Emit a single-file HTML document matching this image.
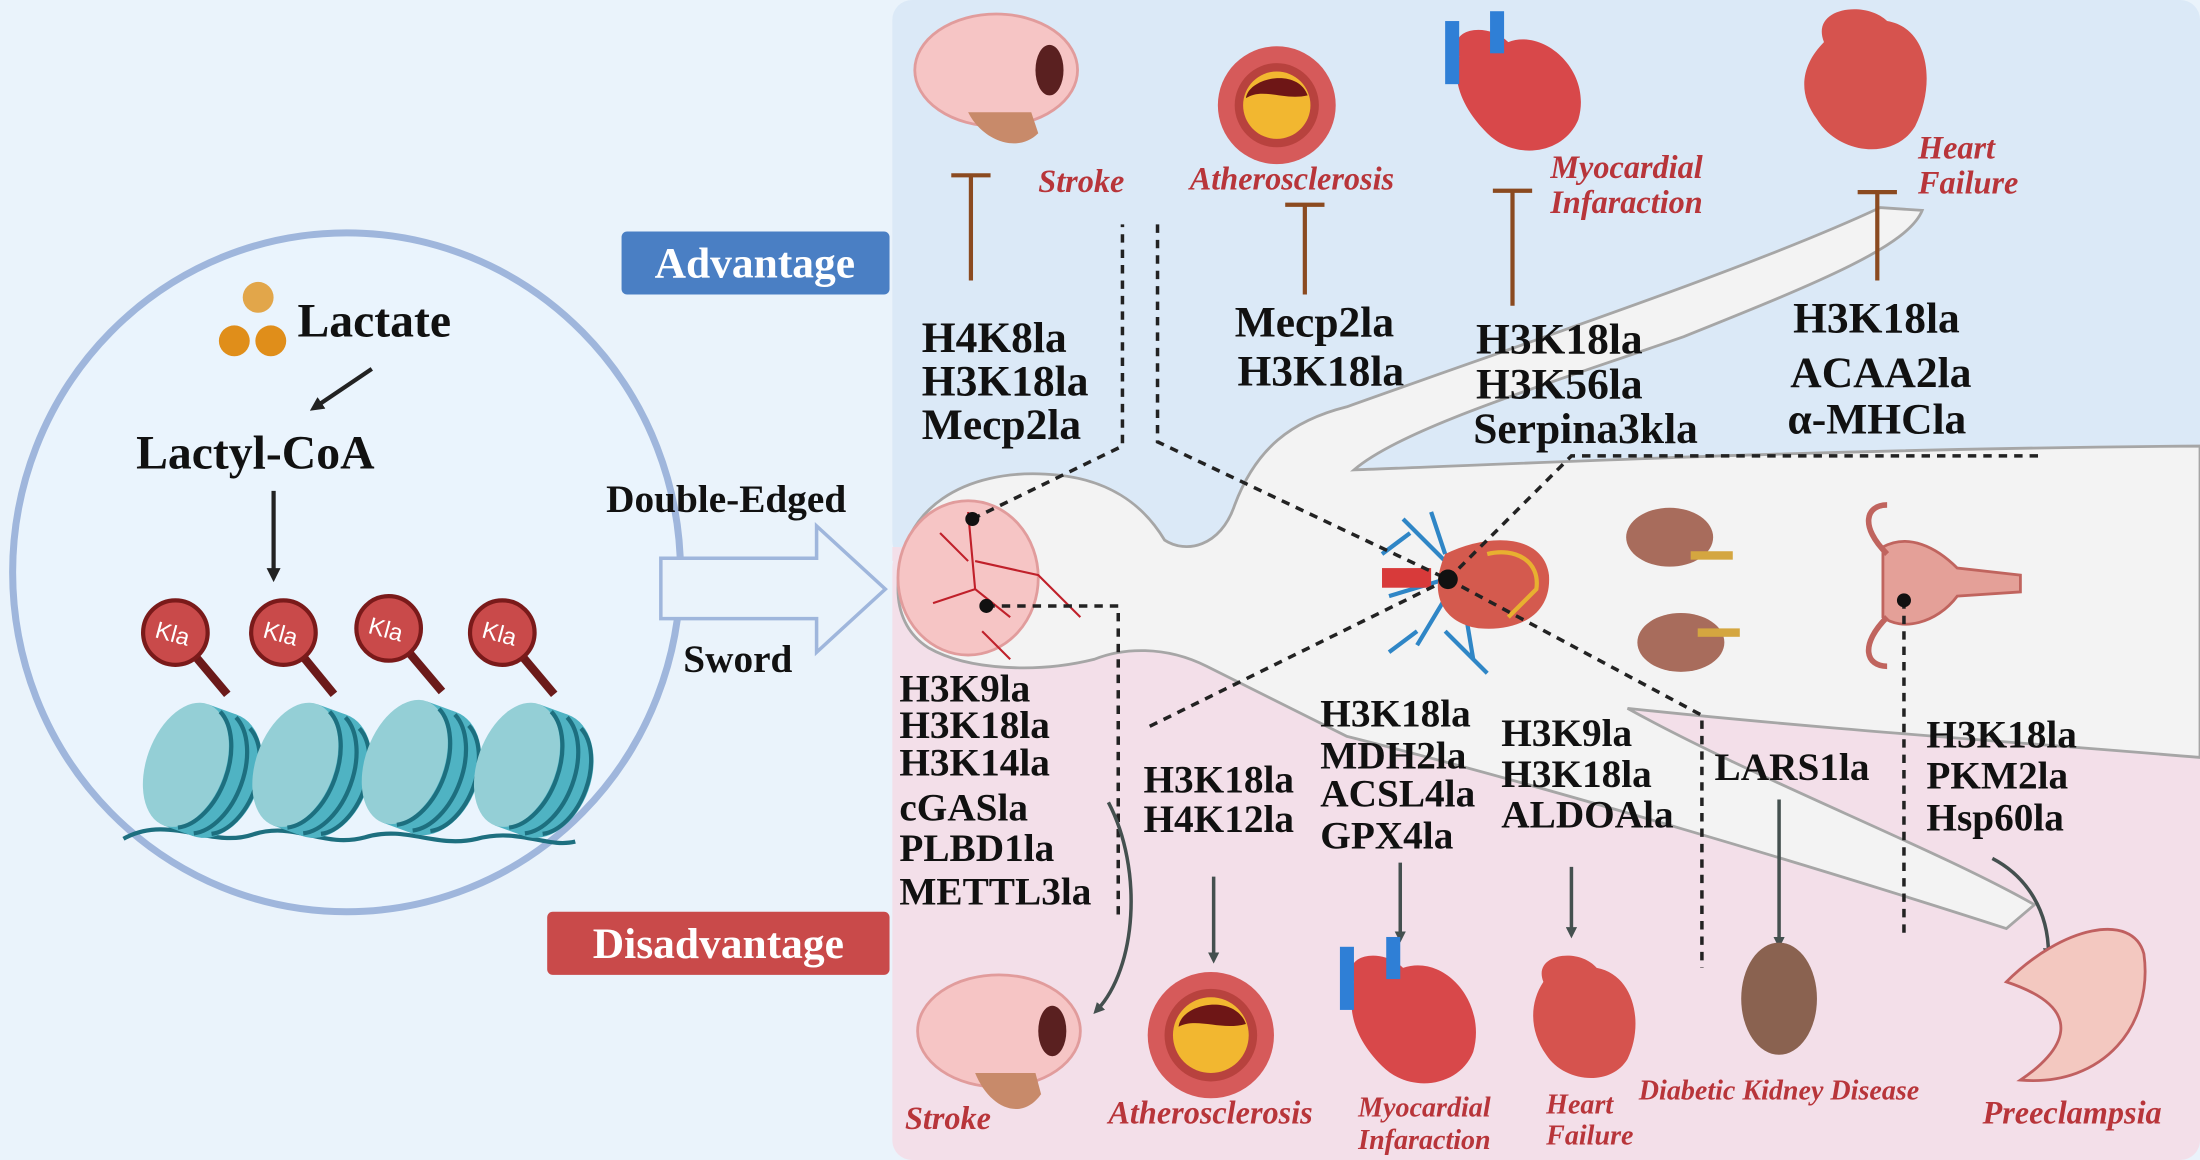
<!DOCTYPE html>
<html><head><meta charset="utf-8"><style>
html,body{margin:0;padding:0;background:#eaf3fb;}
svg{display:block;}
.lb{font-family:"Liberation Serif",serif;font-weight:bold;fill:#111;font-size:31px;}
.dz{font-family:"Liberation Serif",serif;font-weight:bold;font-style:italic;fill:#b8353a;font-size:23px;}
</style></head><body>
<svg width="2200" height="1160" viewBox="0 0 1568 827" preserveAspectRatio="none" xmlns="http://www.w3.org/2000/svg">
<defs>
<marker id="ga" markerWidth="8" markerHeight="8" refX="4" refY="4" orient="auto" markerUnits="userSpaceOnUse" viewBox="0 0 8 8"><path d="M0,0 L8,4 L0,8 Z" fill="#44504f"/></marker>
<marker id="ba" markerWidth="10" markerHeight="10" refX="5" refY="5" orient="auto" viewBox="0 0 10 10" markerUnits="userSpaceOnUse"><path d="M0,0 L10,5 L0,10 Z" fill="#222"/></marker>
</defs>
<rect x="0" y="0" width="1568" height="827" fill="#eaf3fb"/>
<!-- panels -->
<rect x="636" y="0" width="932" height="400" rx="14" fill="#dbe9f7"/>
<rect x="636" y="390" width="932" height="437" rx="14" fill="#f3dfe9"/>
<rect x="636" y="390" width="932" height="10" fill="#f3dfe9"/>
<!-- cell -->
<ellipse cx="247" cy="408" rx="238" ry="242" fill="#eaf4fd" stroke="#9fb6dc" stroke-width="5"/>
<circle cx="184" cy="212" r="11" fill="#e2a64a"/>
<circle cx="167" cy="243" r="11" fill="#e08e1a"/>
<circle cx="193" cy="243" r="11" fill="#e08e1a"/>
<text x="212" y="240" class="lb" style="font-size:34px">Lactate</text>
<line x1="265" y1="263" x2="225" y2="290" stroke="#222" stroke-width="3" marker-end="url(#ba)"/>
<text x="97" y="334" class="lb" style="font-size:34px">Lactyl-CoA</text>
<line x1="195" y1="350" x2="195" y2="410" stroke="#222" stroke-width="3" marker-end="url(#ba)"/>
<!-- nucleosomes -->
<g>
<path d="M88 598 C120 580 150 605 180 595 C210 585 230 605 260 597 C290 588 310 605 340 598 C370 590 390 605 410 600" fill="none" stroke="#1d6f7f" stroke-width="3"/>
<g transform="translate(140,548) rotate(20)"><ellipse cx="14" cy="0" rx="32" ry="46" fill="#4fb3c3"/><rect x="-8" y="-46" width="22" height="92" fill="#4fb3c3"/><ellipse cx="-8" cy="0" rx="28" ry="46" fill="#94cfd6"/><path d="M2 -44 A28 46 0 0 1 2 44 M14 -44 A28 46 0 0 1 14 44 M26 -40 A26 42 0 0 1 26 40" fill="none" stroke="#1d6f7f" stroke-width="3"/></g>
<g transform="translate(218,548) rotate(20)"><ellipse cx="14" cy="0" rx="32" ry="46" fill="#4fb3c3"/><rect x="-8" y="-46" width="22" height="92" fill="#4fb3c3"/><ellipse cx="-8" cy="0" rx="28" ry="46" fill="#94cfd6"/><path d="M2 -44 A28 46 0 0 1 2 44 M14 -44 A28 46 0 0 1 14 44 M26 -40 A26 42 0 0 1 26 40" fill="none" stroke="#1d6f7f" stroke-width="3"/></g>
<g transform="translate(296,546) rotate(20)"><ellipse cx="14" cy="0" rx="32" ry="46" fill="#4fb3c3"/><rect x="-8" y="-46" width="22" height="92" fill="#4fb3c3"/><ellipse cx="-8" cy="0" rx="28" ry="46" fill="#94cfd6"/><path d="M2 -44 A28 46 0 0 1 2 44 M14 -44 A28 46 0 0 1 14 44 M26 -40 A26 42 0 0 1 26 40" fill="none" stroke="#1d6f7f" stroke-width="3"/></g>
<g transform="translate(376,548) rotate(20)"><ellipse cx="14" cy="0" rx="32" ry="46" fill="#4fb3c3"/><rect x="-8" y="-46" width="22" height="92" fill="#4fb3c3"/><ellipse cx="-8" cy="0" rx="28" ry="46" fill="#94cfd6"/><path d="M2 -44 A28 46 0 0 1 2 44 M14 -44 A28 46 0 0 1 14 44 M26 -40 A26 42 0 0 1 26 40" fill="none" stroke="#1d6f7f" stroke-width="3"/></g>
</g>
<g font-family="Liberation Sans,sans-serif" font-size="17" fill="#fff">
<line x1="125" y1="451" x2="162" y2="495" stroke="#6b1a1a" stroke-width="6"/><circle cx="125" cy="451" r="23" fill="#c94a4a" stroke="#7a1a1a" stroke-width="3"/><text x="111" y="458" transform="rotate(15 125 451)">Kla</text>
<line x1="202" y1="451" x2="238" y2="495" stroke="#6b1a1a" stroke-width="6"/><circle cx="202" cy="451" r="23" fill="#c94a4a" stroke="#7a1a1a" stroke-width="3"/><text x="188" y="458" transform="rotate(15 202 451)">Kla</text>
<line x1="277" y1="448" x2="315" y2="493" stroke="#6b1a1a" stroke-width="6"/><circle cx="277" cy="448" r="23" fill="#c94a4a" stroke="#7a1a1a" stroke-width="3"/><text x="263" y="455" transform="rotate(15 277 448)">Kla</text>
<line x1="358" y1="451" x2="395" y2="495" stroke="#6b1a1a" stroke-width="6"/><circle cx="358" cy="451" r="23" fill="#c94a4a" stroke="#7a1a1a" stroke-width="3"/><text x="344" y="458" transform="rotate(15 358 451)">Kla</text>
</g>
<!-- Advantage / Disadvantage -->
<rect x="443" y="165" width="191" height="45" rx="4" fill="#4a7fc4"/>
<text x="538" y="198" text-anchor="middle" class="lb" style="fill:#fff;font-size:31px">Advantage</text>
<rect x="390" y="650" width="244" height="45" rx="4" fill="#c94a4a"/>
<text x="512" y="683" text-anchor="middle" class="lb" style="fill:#fff;font-size:31px">Disadvantage</text>
<text x="432" y="365" class="lb" style="font-size:28px">Double-Edged</text>
<text x="487" y="479" class="lb" style="font-size:28px">Sword</text>
<path d="M471 398 L582 398 L582 375 L631 420 L582 465 L582 441 L471 441 Z" fill="#eaf3fb" stroke="#9fb6dc" stroke-width="2.5"/>
<!-- body -->
<path d="M640 420 C640 360 690 335 745 338 C790 340 815 360 830 385 C845 395 870 390 880 360 C895 320 920 300 960 290 C1100 240 1250 190 1340 148 L1370 150 C1360 175 1300 200 1200 240 C1100 275 1000 305 965 335 C1100 330 1300 320 1568 318 L1568 540 C1450 530 1300 520 1160 505 C1250 555 1380 605 1450 645 L1430 662 C1300 620 1100 560 960 525 C920 505 880 485 860 475 C830 460 800 462 780 470 C740 480 690 478 662 462 C646 452 640 436 640 420 Z" fill="#f3f3f3" stroke="#a6a6a6" stroke-width="2"/>
<!-- brain in head -->
<ellipse cx="690" cy="412" rx="50" ry="55" fill="#f6c5c5" stroke="#e19c9c" stroke-width="2"/>
<path d="M690 365 L695 420 L720 440 M695 400 L740 410 L770 440 M670 380 L690 400 M665 430 L695 420 M700 450 L720 470" stroke="#c0202a" stroke-width="1.5" fill="none"/>
<!-- heart/lungs -->
<path d="M1040 410 L1000 370 M1040 410 L990 425 M1040 410 L1010 460 M1040 410 L1050 470 M1030 395 L1020 365 M1005 380 L985 395 M1010 450 L990 465 M1030 450 L1060 480" stroke="#2f86c6" stroke-width="3" fill="none"/>
<path d="M1030 395 C1060 380 1100 380 1104 410 C1106 440 1080 450 1055 448 C1035 446 1015 430 1030 395 Z" fill="#d45a4e"/>
<path d="M1060 395 C1080 390 1098 400 1095 420 L1075 440" stroke="#e8b030" stroke-width="3" fill="none"/>
<rect x="985" y="405" width="35" height="14" fill="#d83a3a"/>
<!-- kidneys -->
<ellipse cx="1190" cy="383" rx="31" ry="21" fill="#a86c5c"/>
<ellipse cx="1198" cy="458" rx="31" ry="21" fill="#a86c5c"/>
<rect x="1205" y="393" width="30" height="6" fill="#d4a640"/>
<rect x="1210" y="448" width="30" height="6" fill="#d4a640"/>
<!-- uterus -->
<path d="M1342 390 C1360 380 1380 390 1395 405 L1440 410 L1440 422 L1395 425 C1380 445 1355 450 1342 440 Z" fill="#e4a098" stroke="#c0645e" stroke-width="2"/>
<path d="M1345 395 C1325 375 1330 360 1345 360 M1345 440 C1325 460 1330 475 1345 475" stroke="#c0645e" stroke-width="4" fill="none"/>
<!-- dashed lines -->
<g stroke="#222" stroke-width="2.5" stroke-dasharray="6,5" fill="none">
<path d="M693 370 L800 318 L800 160"/>
<path d="M825 160 L825 315 L1032 413"/>
<path d="M1032 413 L1120 325 L1455 325"/>
<path d="M1032 413 L815 520"/>
<path d="M703 432 L797 432 L797 657"/>
<path d="M1032 413 L1213 510 L1213 690"/>
<path d="M1357 428 L1357 665"/>
</g>
<circle cx="693" cy="370" r="5" fill="#111"/><circle cx="703" cy="432" r="5" fill="#111"/><circle cx="1032" cy="413" r="7" fill="#111"/><circle cx="1357" cy="428" r="5" fill="#111"/>
<!-- top icons -->
<ellipse cx="710" cy="50" rx="58" ry="40" fill="#f6c5c5" stroke="#e19c9c" stroke-width="2"/>
<path d="M690 80 C700 100 725 110 740 95 L735 80 Z" fill="#c88a6a"/>
<ellipse cx="748" cy="50" rx="10" ry="18" fill="#5a2020"/>
<circle cx="910" cy="75" r="42" fill="#d65a5a"/><circle cx="910" cy="75" r="30" fill="#b8423e"/><circle cx="910" cy="75" r="24" fill="#f2b730"/><path d="M888 70 C890 55 925 48 932 68 C915 72 900 62 888 70 Z" fill="#6e1616"/>
<path d="M1040 40 C1030 20 1060 15 1075 30 C1100 20 1135 50 1125 85 C1115 110 1080 115 1060 95 C1040 75 1035 55 1040 40 Z" fill="#d8484a"/>
<rect x="1030" y="15" width="10" height="45" fill="#2f7fd6"/><rect x="1062" y="8" width="10" height="30" fill="#2f7fd6"/>
<path d="M1300 30 C1290 5 1330 0 1345 15 C1375 20 1380 60 1365 90 C1350 115 1310 110 1295 85 C1280 65 1285 45 1300 30 Z" fill="#d6534e"/>
<text x="740" y="137" class="dz">Stroke</text>
<text x="848" y="135" class="dz">Atherosclerosis</text>
<text x="1105" y="127" class="dz">Myocardial</text><text x="1105" y="152" class="dz">Infaraction</text>
<text x="1367" y="113" class="dz">Heart</text><text x="1367" y="138" class="dz">Failure</text>
<!-- inhibit lines -->
<g stroke="#8b4a20" stroke-width="3">
<path d="M692 200 L692 125 M678 125 L706 125"/>
<path d="M930 210 L930 146 M916 146 L944 146"/>
<path d="M1078 218 L1078 136 M1064 136 L1092 136"/>
<path d="M1338 200 L1338 137 M1324 137 L1352 137"/>
</g>
<!-- top labels -->
<text class="lb"><tspan x="657" y="251">H4K8la</tspan><tspan x="657" y="282">H3K18la</tspan><tspan x="657" y="313">Mecp2la</tspan></text>
<text class="lb"><tspan x="880" y="240">Mecp2la</tspan><tspan x="882" y="275">H3K18la</tspan></text>
<text class="lb"><tspan x="1052" y="252">H3K18la</tspan><tspan x="1052" y="284">H3K56la</tspan><tspan x="1050" y="316">Serpina3kla</tspan></text>
<text class="lb"><tspan x="1278" y="237">H3K18la</tspan><tspan x="1276" y="276">ACAA2la</tspan><tspan x="1274" y="309">α-MHCla</tspan></text>
<!-- bottom labels -->
<text class="lb" style="font-size:28px"><tspan x="641" y="500">H3K9la</tspan><tspan x="641" y="526">H3K18la</tspan><tspan x="641" y="553">H3K14la</tspan><tspan x="641" y="585">cGASla</tspan><tspan x="641" y="614">PLBD1la</tspan><tspan x="641" y="645">METTL3la</tspan></text>
<text class="lb" style="font-size:28px"><tspan x="815" y="565">H3K18la</tspan><tspan x="815" y="593">H4K12la</tspan></text>
<text class="lb" style="font-size:28px"><tspan x="941" y="518">H3K18la</tspan><tspan x="941" y="548">MDH2la</tspan><tspan x="941" y="575">ACSL4la</tspan><tspan x="941" y="605">GPX4la</tspan></text>
<text class="lb" style="font-size:28px"><tspan x="1070" y="532">H3K9la</tspan><tspan x="1070" y="561">H3K18la</tspan><tspan x="1070" y="590">ALDOAla</tspan></text>
<text class="lb" style="font-size:28px"><tspan x="1222" y="556">LARS1la</tspan></text>
<text class="lb" style="font-size:28px"><tspan x="1373" y="533">H3K18la</tspan><tspan x="1373" y="562">PKM2la</tspan><tspan x="1373" y="592">Hsp60la</tspan></text>
<!-- gray arrows -->
<g stroke="#44504f" stroke-width="2.5" fill="none" marker-end="url(#ga)">
<path d="M790 572 C815 620 810 690 782 720"/>
<path d="M865 625 L865 683"/>
<path d="M998 615 L998 668"/>
<path d="M1120 618 L1120 665"/>
<path d="M1268 570 L1268 672"/>
<path d="M1420 612 C1445 625 1460 650 1460 680"/>
</g>
<!-- bottom icons -->
<ellipse cx="712" cy="735" rx="58" ry="40" fill="#f6c5c5" stroke="#e19c9c" stroke-width="2"/>
<path d="M695 765 C705 790 728 800 742 780 L738 765 Z" fill="#c88a6a"/>
<ellipse cx="750" cy="735" rx="10" ry="18" fill="#5a2020"/>
<circle cx="863" cy="738" r="45" fill="#d65a5a"/><circle cx="863" cy="738" r="33" fill="#b8423e"/><circle cx="863" cy="738" r="27" fill="#f2b730"/><path d="M840 732 C842 715 880 708 888 730 C870 735 853 725 840 732 Z" fill="#6e1616"/>
<path d="M965 700 C955 680 985 675 1000 690 C1030 680 1060 715 1050 750 C1040 775 1005 780 985 760 C965 740 960 720 965 700 Z" fill="#d8484a"/>
<rect x="955" y="675" width="10" height="45" fill="#2f7fd6"/><rect x="988" y="668" width="10" height="30" fill="#2f7fd6"/>
<path d="M1100 700 C1092 680 1125 675 1138 690 C1165 695 1172 730 1160 755 C1148 775 1115 772 1102 752 C1090 735 1090 715 1100 700 Z" fill="#d6534e"/>
<ellipse cx="1268" cy="712" rx="27" ry="40" fill="#8a6250"/>
<path d="M1430 700 C1470 660 1520 650 1528 680 C1535 730 1500 775 1440 770 C1470 750 1490 720 1430 700 Z" fill="#f3c8c0" stroke="#c06060" stroke-width="2"/>
<text x="645" y="805" class="dz">Stroke</text>
<text x="790" y="801" class="dz">Atherosclerosis</text>
<text x="968" y="796" class="dz" style="font-size:20px">Myocardial</text><text x="968" y="819" class="dz" style="font-size:20px">Infaraction</text>
<text x="1102" y="794" class="dz" style="font-size:20px">Heart</text><text x="1102" y="816" class="dz" style="font-size:20px">Failure</text>
<text x="1168" y="784" class="dz" style="font-size:20px">Diabetic Kidney Disease</text>
<text x="1413" y="801" class="dz">Preeclampsia</text>
</svg>
</body></html>
